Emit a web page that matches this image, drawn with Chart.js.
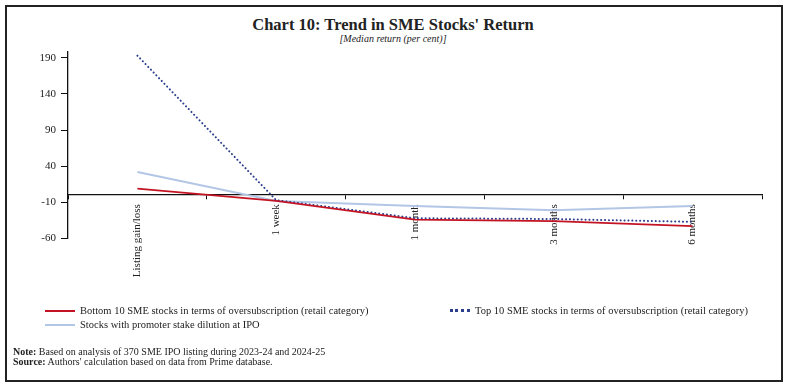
<!DOCTYPE html>
<html>
<head>
<meta charset="utf-8">
<script src="https://cdn.jsdelivr.net/npm/chart.js@4.4.1/dist/chart.umd.min.js"></script>
<style>
  html, body { margin: 0; padding: 0; background: #fff; }
  body { width: 786px; height: 388px; position: relative; overflow: hidden; font-family: "Liberation Serif", "Times New Roman", serif; color: #222; }
  #frame { position: absolute; left: 5px; top: 5px; width: 774px; height: 373px; border: 2px solid #222; }
  #chart { position: absolute; left: 0; top: 0; }
  .title { position: absolute; left: 0; width: 786px; text-align: center; top: 15px; font-size: 16.5px; font-weight: bold; }
  .sub { position: absolute; left: 0; width: 786px; text-align: center; top: 33px; font-size: 10px; font-style: italic; }
  .leg { position: absolute; font-size: 10.5px; white-space: nowrap; display: flex; align-items: center; }
  .leg span.sw { display: inline-block; width: 30px; margin-right: 5px; }
  .note { position: absolute; left: 13px; font-size: 10px; white-space: nowrap; }
</style>
</head>
<body>
<div id="frame"></div>
<div class="title">Chart 10: Trend in SME Stocks' Return</div>
<div class="sub">[Median return (per cent)]</div>
<canvas id="chart" width="786" height="388"></canvas>
<div id="legend"></div>
<div class="note" style="top:346px"><b>Note:</b> Based on analysis of 370 SME IPO listing during 2023-24 and 2024-25</div>
<div class="note" style="top:356px"><b>Source:</b> Authors' calculation based on data from Prime database.</div>
<script>
const categories = ["Listing gain/loss", "1 week", "1 month", "3 months", "6 months"];
const bottom10 = [9, -8, -34, -36, -43];
const top10 = [193, -7, -32, -33, -37];
const promoter = [32, -8, -15, -21, -15];
const yTicks = [-60, -10, 40, 90, 140, 190];

const seriesNames = [
  "Bottom 10 SME stocks in terms of oversubscription (retail category)",
  "Top 10 SME stocks in terms of oversubscription (retail category)",
  "Stocks with promoter stake dilution at IPO"
];
const red = "#c41424", navy = "#2c3f8c", pale = "#b3c6e6";

const ctx = document.getElementById("chart").getContext("2d");
new Chart(ctx, {
  type: "line",
  data: {
    labels: categories,
    datasets: [
      { label: seriesNames[0], data: bottom10, borderColor: red, borderWidth: 1.8, pointRadius: 0 },
      { label: seriesNames[1], data: top10, borderColor: navy, borderWidth: 2, borderDash: [0.1, 3.8], borderCapStyle: "round", pointRadius: 0 },
      { label: seriesNames[2], data: promoter, borderColor: pale, borderWidth: 2, pointRadius: 0 }
    ]
  },
  options: {
    responsive: false,
    animation: false,
    layout: { padding: { left: 18, top: 52, right: 24, bottom: 149.5 } },
    plugins: { legend: { display: false }, tooltip: { enabled: false } },
    scales: {
      x: {
        type: "category",
        position: { y: 0 },
        offset: true,
        grid: { offset: true, drawOnChartArea: false, tickLength: 4, color: "#111", lineWidth: 1 },
        border: { color: "#111", width: 1.3 },
        ticks: { minRotation: 90, maxRotation: 90, padding: 5, color: "#222", font: { family: "Liberation Serif", size: 11 } }
      },
      y: {
        min: -60,
        max: 198,
        afterFit: (s) => { s.width = 50; },
        afterBuildTicks: (s) => { s.ticks = yTicks.map(v => ({ value: v })); },
        grid: { drawOnChartArea: false, tickLength: 7, color: "#111" },
        border: { color: "#111", width: 1.3 },
        ticks: { padding: 5, color: "#222", font: { family: "Liberation Serif", size: 11 } }
      }
    }
  }
});

// legend built from the series definitions
const legendItems = [
  { name: seriesNames[0], color: red, style: "solid", x: 45, y: 305 },
  { name: seriesNames[1], color: navy, style: "dotted", x: 450, y: 305 },
  { name: seriesNames[2], color: pale, style: "solid", x: 45, y: 319 }
];
const legend = document.getElementById("legend");
legendItems.forEach(item => {
  const d = document.createElement("div");
  d.className = "leg";
  d.style.left = item.x + "px";
  d.style.top = item.y + "px";
  const sw = document.createElement("span");
  sw.className = "sw";
  sw.style.borderTop = (item.style === "dotted" ? "3px dotted " : "2px solid ") + item.color;
  sw.style.width = item.style === "dotted" ? "20px" : "30px";
  d.appendChild(sw);
  d.appendChild(document.createTextNode(item.name));
  legend.appendChild(d);
});
</script>
</body>
</html>
